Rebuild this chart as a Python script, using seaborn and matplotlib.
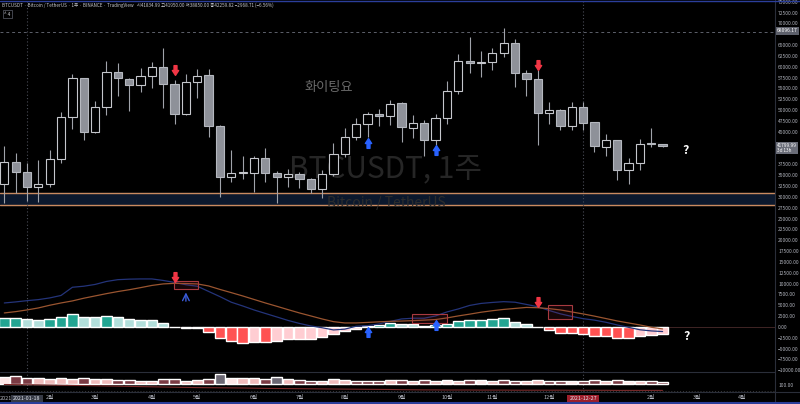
import numpy as np
import pandas as pd
import matplotlib
matplotlib.use("Agg")
import matplotlib.pyplot as plt
import seaborn as sns
from matplotlib.path import Path
from matplotlib.patches import Rectangle
from matplotlib.lines import Line2D

# --- weekly BTCUSDT candles, 2021-01-04 .. 2022-02-14 ---
opens = [33000, 38000, 35700, 32200, 33000, 38700, 48300, 57300, 45000, 50800,
         58700, 57200, 55800, 57900, 59900, 56000, 49100, 56400, 58100, 46300,
         34600, 35600, 35600, 38900, 35400, 34600, 35200, 34100, 31700, 35300,
         39800, 43700, 46800, 49000, 48600, 51600, 45800, 47100, 43100, 48100,
         54500, 61400, 60800, 61200, 63100, 65400, 58500, 57200, 49300, 50000,
         46400, 50700, 47200, 41600, 43000, 36200, 37700, 42300, 42100]
highs = [41800, 40000, 37800, 38500, 40800, 49600, 58300, 57500, 52200, 61300,
         60900, 57400, 59800, 61000, 64400, 56900, 58300, 59400, 59400, 46500,
         40800, 39400, 39500, 41300, 36000, 36400, 35800, 34400, 36200, 42500,
         45800, 48200, 49600, 50300, 52300, 51900, 48900, 47800, 49100, 56600,
         62900, 66900, 63700, 64300, 68900, 66300, 59200, 59200, 51900, 50200,
         51900, 51900, 47300, 44400, 43100, 38900, 43300, 45800, 42300]
lows = [28500, 30800, 29000, 28900, 32300, 37900, 45600, 43100, 44800, 48900,
        53200, 49900, 54200, 55000, 50400, 46800, 48900, 52900, 43800, 30000,
        33500, 34100, 31100, 33400, 28500, 32300, 32000, 30800, 29700, 34800,
        39300, 43100, 43900, 46300, 46600, 42700, 43600, 39500, 42000, 46900,
        53700, 58500, 57700, 59200, 62300, 55400, 53300, 42000, 46700, 45400,
        45400, 45400, 40400, 39500, 33900, 32900, 36200, 41500, 41600]
closes = [38000, 35700, 32200, 33000, 38700, 48300, 57300, 45000, 50800, 58900,
          57300, 55800, 57900, 59900, 56000, 49100, 56400, 57900, 46300, 34600,
          35600, 35700, 38900, 35400, 34600, 35200, 34100, 31700, 35300, 39800,
          43700, 46800, 49000, 48600, 51400, 46000, 47100, 43100, 48100, 54500,
          61400, 60800, 61200, 63100, 65400, 58500, 57200, 49300, 50000, 46400,
          50700, 47100, 41700, 43000, 36200, 37700, 42300, 42100, 41800]

# --- MACD (drawn on the price scale) ---
macd = [5530, 5770, 6060, 6300, 6690, 7260, 9150, 9390, 9800, 10490,
        10900, 11020, 11070, 11070, 10720, 10260, 9730, 9390, 8190, 6990,
        5700, 4840, 3920, 3110, 2310, 1500, 810, 230, -180, -690,
        -510, 160, 300, 690, 1270, 1840, 2010, 2010, 2540, 3460,
        4150, 4960, 5420, 5650, 5830, 5700, 5190, 4660, 3800, 3020,
        2420, 1910, 1570, 1080, 460, -90, -650, -920, -1060]
signal = [3230, 3530, 3920, 4380, 5000, 5530, 6000, 6620, 7150, 7680,
          8160, 8580, 9060, 9570, 9920, 10050, 10010, 9920, 9450, 8650,
          7910, 7150, 6340, 5530, 4770, 3990, 3230, 2540, 1840, 1220,
          920, 920, 1040, 1180, 1290, 1360, 1450, 1570, 1710, 2080,
          2540, 2950, 3390, 3740, 4040, 4270, 4500, 4430, 4220, 3920,
          3460, 3000, 2490, 1940, 1380, 920, 460, -70, -460]
hist = [2150, 2150, 1780, 1550, 1780, 2300, 2920, 2400, 2300, 2540,
        2300, 1940, 1700, 1550, 1000, -60, -300, -350, -1150, -2450,
        -3220, -3600, -3370, -3370, -3220, -2840, -2840, -2840, -2300, -1690,
        -920, -500, 300, 500, 1000, 700, 650, 300, 500, 750,
        1450, 1700, 1700, 1850, 1950, 1250, 700, -50, -750, -1300,
        -1300, -1600, -2080, -2080, -2600, -2600, -2080, -1900, -1650]
hist_kind = "TTttTTTttTttttt" + "RRRRRRRpRpppppppp" + "TTTtttTTTTTTTtt" + "RRRRRRRRRppp"

# --- volume pane ---
volume = [640, 770, 540, 540, 470, 540, 440, 540, 440, 440,
          370, 370, 300, 300, 440, 440, 300, 370, 440, 970,
          540, 540, 540, 440, 700, 440, 370, 300, 300, 440,
          370, 300, 300, 300, 370, 340, 300, 330, 300, 370,
          300, 340, 370, 300, 340, 300, 300, 340, 300, 270,
          300, 270, 340, 300, 340, 300, 300, 240, 200]
vol_kind = "wmmppppmppmmppmmppmgwppmgpmmpppmmmp" + "mpmpwpmwpmmppmmwmmpmwpmm"
vol_ma = [-80, -90, -100, -110, -130, -150, -170, -190, -210, -230,
          -250, -270, -290, -310, -330, -350, -370, -390, -400, -410,
          -420, -430, -450, -470, -480, -490, -500, -510, -520, -530,
          -540, -550, -560, -570, -580, -600, -610, -620, -620, -630,
          -630, -630, -640, -640, -640, -650, -650, -650, -650, -650,
          -660, -660, -660, -660, -670, -670, -670, -670, -670]

# signal arrows
sell_weeks = [15, 47]
sell_price = [59250, 60400]
sell_macd = [11600, 5830]
buy_weeks = [32, 38]
buy_price = [42420, 40800]
buy_macd = [-1080, 460]

# time axis
tick_weeks = [4, 8, 13, 17, 22, 26, 30, 35, 39, 43, 48, 57, 61, 65]
tick_labels = ["2월", "3월", "4월", "5월", "6월", "7월", "8월", "9월",
               "10월", "11월", "12월", "2월", "3월", "4월"]

support_top = 30800
support_bottom = 28100
ath_line = 68096.17
last_price = 41799.99

df = pd.DataFrame({"week": np.arange(len(opens)), "open": opens, "high": highs,
                   "low": lows, "close": closes, "macd": macd, "signal": signal,
                   "hist": hist, "volume": volume, "vol_ma": vol_ma})

# --- style ---
sns.set_theme(style="dark", rc={"axes.facecolor": "black", "figure.facecolor": "black",
                                "axes.grid": False, "savefig.facecolor": "black"})
plt.rcParams["font.family"] = ["Noto Sans CJK KR", "DejaVu Sans"]

W, H = 800, 404
fig = plt.figure(figsize=(W / 100, H / 100), dpi=100)
ax = fig.add_axes([0, (H - 372) / H, 775 / W, 372 / H])
axv = fig.add_axes([0, (H - 392) / H, 775 / W, 20 / H], sharex=ax)

for a in (ax, axv):
    a.set_facecolor("black")
    for s in a.spines.values():
        s.set_visible(False)

x0, dx = 4.3, 11.35
ax.set_xlim((0 - x0) / dx, (775 - x0) / dx)
ax.set_ylim(-10391, 75392)
axv.set_ylim(-830, 1170)

# support band + levels
ax.axhspan(support_bottom, support_top, color="#0b182d", zorder=0.2)
ax.axhline(support_top, color="#c98a5f", lw=1, zorder=0.3)
ax.axhline(support_bottom, color="#c98a5f", lw=1, zorder=0.3)
ax.axhline(ath_line, color="#5d606b", lw=0.7, ls=(0, (3, 3)), zorder=0.3)
for a in (ax, axv):
    for wk in (2, 51):
        a.axvline(wk, color="#4a4d57", lw=0.8, ls=(0, (1, 2)), zorder=0.3)

# watermark
ax.text(33.6, 36190, "BTCUSDT, 1주", fontsize=21.5, color="#262626", ha="center",
        va="center", zorder=0.4)
ax.text(33.7, 28580, "Bitcoin / TetherUS", fontsize=10, color="#2c2c2c", ha="center",
        va="center", zorder=0.4)
ax.text(28.6, 55100, "화이팅요", fontsize=9.5, color="#6a6a6a", ha="center", va="center")

# candles
up = df["close"] >= df["open"]
ax.vlines(df["week"], df["low"], df["high"], color="#a0a3aa", lw=0.8, zorder=2)
body_lo = np.minimum(df["open"], df["close"])
body_h = np.maximum((df["close"] - df["open"]).abs(), 230)
ax.bar(df["week"][up], body_h[up], bottom=body_lo[up], width=0.73,
       color="black", edgecolor="#c5c7cc", linewidth=0.8, zorder=3)
ax.bar(df["week"][~up], body_h[~up], bottom=body_lo[~up], width=0.73,
       color="#8e9199", edgecolor="#b5b8bf", linewidth=0.8, zorder=3)

# MACD histogram + lines
hist_colors = {"T": "#22a592", "t": "#b2dfdb", "R": "#ff5252", "p": "#ffcdd2"}
ax.bar(df["week"], df["hist"], width=0.93, color=[hist_colors[k] for k in hist_kind],
       zorder=2)
ax.axhline(0, color="#4a2b2b", lw=0.6, zorder=1.5)
sns.lineplot(data=df, x="week", y="macd", ax=ax, color="#24347a", lw=0.9, zorder=4)
sns.lineplot(data=df, x="week", y="signal", ax=ax, color="#9a5530", lw=0.9, zorder=4)

# boxes drawn on the MACD
for (bx, by, bw, bh) in [(14.95, 8690, 2.09, 1990), (35.95, 850, 3.08, 2080),
                         (47.93, 1780, 2.06, 3290)]:
    ax.add_patch(Rectangle((bx, by), bw, bh, facecolor=(0.6, 0.15, 0.2, 0.15),
                           edgecolor="#a83a40", lw=0.8, zorder=5))
ax.annotate("", xy=(16, 8600), xytext=(16, 5300),
            arrowprops=dict(arrowstyle="->", color="#3a5bd9", lw=1, mutation_scale=12),
            zorder=5)

# arrow markers
down_arrow = Path([(-0.3, 1), (0.3, 1), (0.3, 0), (0.65, 0), (0, -1), (-0.65, 0),
                   (-0.3, 0), (-0.3, 1)], closed=True)
up_arrow = Path([(-0.3, -1), (0.3, -1), (0.3, 0), (0.65, 0), (0, 1), (-0.65, 0),
                 (-0.3, 0), (-0.3, -1)], closed=True)
for ys in (sell_price, sell_macd):
    ax.plot(sell_weeks, ys, ls="none", marker=down_arrow, markersize=7,
            color="#f23645", zorder=6)
for ys in (buy_price, buy_macd):
    ax.plot(buy_weeks, ys, ls="none", marker=up_arrow, markersize=7,
            color="#2962ff", zorder=6)

ax.text(60, 40650, "?", fontsize=9, fontweight="bold", color="white", ha="center", va="center")
ax.text(60.1, -2300, "?", fontsize=9, fontweight="bold", color="white", ha="center", va="center")

# volume pane
vol_colors = {"p": "#f0bcbc", "m": "#7b3b44", "g": "#6c6874", "w": "#fde6e6"}
axv.bar(df["week"], df["volume"], width=0.95, color=[vol_colors[k] for k in vol_kind])
sns.lineplot(data=df, x="week", y="vol_ma", ax=axv, color="#7a2a2a", lw=0.8)
axv.axhline(-730, color="#3a3a3a", lw=0.7, ls=(0, (1, 2)))

# right price scale
ticks = [v for v in range(-10000, 75001, 2500) if v not in (67500, 42500, 40000)]
ax.set_yticks(ticks)
ax.set_yticklabels([f"{v:.2f}".replace("-", "−") for v in ticks])
ax.yaxis.set_ticks_position("right")
ax.tick_params(axis="y", length=0, labelsize=3.5, labelcolor="#b2b5be", pad=2.2)
ax.tick_params(axis="x", bottom=False, labelbottom=False)
ax.set_xlabel("")
ax.set_ylabel("")
axv.set_yticks([-130])
axv.set_yticklabels(["100.00"])
axv.yaxis.set_ticks_position("right")
axv.tick_params(axis="y", length=0, labelsize=3.5, labelcolor="#b2b5be", pad=2.2)
axv.set_xticks(tick_weeks)
axv.set_xticklabels(tick_labels)
axv.tick_params(axis="x", length=0, labelsize=4, labelcolor="#b2b5be", pad=2.5)
axv.set_xlabel("")
axv.set_ylabel("")
axv.text(ax.get_xlim()[0], -1530, "2021", fontsize=4, color="#b2b5be", ha="left",
         va="center", clip_on=False)

# crosshair date labels
for wk, lab, col in [(2, "2021-01-18", "#363a45"), (51, "2021-12-27", "#9e1f2c")]:
    axv.text(wk, -1530, lab, fontsize=3.8, color="#e0e3eb", ha="center", va="center",
             bbox=dict(boxstyle="square,pad=0.35", fc=col, ec="none"), clip_on=False)

# price labels on the scale
fig.text(777 / W, 1 - 31 / H, f"{ath_line:.2f}", fontsize=3.6, color="white",
         va="center", ha="left", bbox=dict(boxstyle="square,pad=0.3", fc="#5d606b", ec="none"))
fig.text(777 / W, 1 - 148 / H, f"{last_price:.2f}\n3d 13h", fontsize=3.4, color="white",
         va="center", ha="left", linespacing=1.0,
         bbox=dict(boxstyle="square,pad=0.3", fc="#6a6d78", ec="none"))

# header
fig.text(2 / W, 1 - 5 / H,
         "BTCUSDT · Bitcoin / TetherUS · 1주 · BINANCE · TradingView   "
         "시41834.99 고41950.00 저38850.00 종42259.82 −2968.71 (−6.56%)",
         fontsize=3.3, color="#c8cad0", va="center", ha="left")
fig.text(4 / W, 1 - 14 / H, "^ 4", fontsize=3.4, color="#c8cad0", va="center", ha="left",
         bbox=dict(boxstyle="square,pad=0.3", fc="black", ec="#5d606b", lw=0.5))

# frame lines
fig.add_artist(Line2D([775 / W, 775 / W], [0, 1], color="#2a2e39", lw=0.8))
fig.add_artist(Line2D([0, 775 / W], [(H - 372) / H] * 2, color="#2a2e39", lw=0.8))
fig.add_artist(Line2D([0, 1], [(H - 392) / H] * 2, color="#2a2e39", lw=0.8))
fig.add_artist(Line2D([0, 1], [1 - 0.5 / H] * 2, color="#2b3e9a", lw=1))
fig.add_artist(Line2D([0, 1], [1.5 / H] * 2, color="#2b3e9a", lw=1.5))

fig.savefig("out.png", dpi=100, facecolor="black")
